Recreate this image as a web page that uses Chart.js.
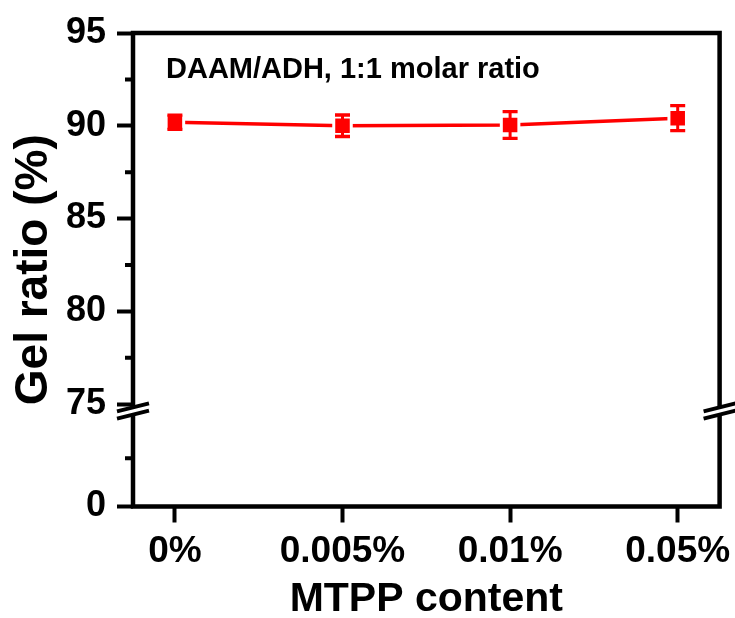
<!DOCTYPE html>
<html>
<head>
<meta charset="utf-8">
<script src="https://cdn.jsdelivr.net/npm/chart.js@4.4.1/dist/chart.umd.min.js"></script>
<style>
  html, body { margin: 0; padding: 0; background: #ffffff; }
  #wrap { width: 735px; height: 618px; }
</style>
</head>
<body>
<div id="wrap"><canvas id="c" width="735" height="618"></canvas></div>
<script>
// ---- data ----
const categories = ['0%', '0.005%', '0.01%', '0.05%'];
const gelRatio = [90.19, 90.00, 90.04, 90.41];
const gelError = [0.38, 0.58, 0.72, 0.67];
const yMajorTicks = [0, 75, 80, 85, 90, 95];
const yMinorTicks = [37.5, 77.5, 82.5, 87.5, 92.5];
const annotationText = 'DAAM/ADH, 1:1 molar ratio';
const xTitle = 'MTPP content';
const yTitle = 'Gel ratio (%)';

// ---- broken axis mapping (values below the break are compressed) ----
const BREAK_AT = 75;
const BREAK_GAP = 0.323;     // display units taken by the break
const LOWER_SPAN = 5.2;      // display units used for 0..75
function toDisplay(v) {
  if (v >= BREAK_AT) return v;
  return BREAK_AT - BREAK_GAP - LOWER_SPAN * (BREAK_AT - v) / BREAK_AT;
}

const FONT = '"Liberation Sans", Arial, Helvetica, sans-serif';
const RED = '#ff0000';
const BLACK = '#000000';

const errorBarPlugin = {
  id: 'errorBars',
  afterDatasetsDraw(chart) {
    const xs = chart.scales.x, ys = chart.scales.y, ctx = chart.ctx;
    ctx.save();
    ctx.strokeStyle = RED;
    ctx.lineCap = 'butt';
    gelRatio.forEach((v, i) => {
      const x = xs.getPixelForValue(i);
      const yTop = ys.getPixelForValue(toDisplay(v + gelError[i]));
      const yBot = ys.getPixelForValue(toDisplay(v - gelError[i]));
      ctx.lineWidth = 3;
      ctx.beginPath();
      ctx.moveTo(x, yTop); ctx.lineTo(x, yBot);
      ctx.stroke();
      ctx.lineWidth = 3.3;
      ctx.beginPath();
      ctx.moveTo(x - 7.5, yTop); ctx.lineTo(x + 7.5, yTop);
      ctx.moveTo(x - 7.5, yBot); ctx.lineTo(x + 7.5, yBot);
      ctx.stroke();
    });
    ctx.restore();
  }
};

const framePlugin = {
  id: 'frame',
  afterDraw(chart) {
    const ctx = chart.ctx, a = chart.chartArea, ys = chart.scales.y;
    ctx.save();
    ctx.strokeStyle = BLACK;
    ctx.lineWidth = 4.5;
    ctx.lineCap = 'square';
    ctx.beginPath();
    ctx.moveTo(a.left, a.top); ctx.lineTo(a.right, a.top);
    ctx.moveTo(a.left, a.bottom); ctx.lineTo(a.right, a.bottom);
    ctx.moveTo(a.left, a.top); ctx.lineTo(a.left, a.bottom);
    ctx.moveTo(a.right, a.top); ctx.lineTo(a.right, a.bottom);
    ctx.stroke();

    // minor ticks
    ctx.lineCap = 'butt';
    ctx.lineWidth = 4;
    ctx.beginPath();
    yMinorTicks.forEach(v => {
      const y = ys.getPixelForValue(toDisplay(v));
      ctx.moveTo(a.left - 8, y); ctx.lineTo(a.left, y);
    });
    ctx.stroke();

    // axis break marks
    const cy = ys.getPixelForValue(toDisplay(BREAK_AT - 1e-9)) + 1;
    [a.left, a.right].forEach(cx => {
      const hw = 16, slope = -0.25, off = 3.6;
      const yAt = (x, o) => cy + slope * (x - cx) + o;
      ctx.fillStyle = '#ffffff';
      ctx.beginPath();
      ctx.moveTo(cx - hw, yAt(cx - hw, -off));
      ctx.lineTo(cx + hw, yAt(cx + hw, -off));
      ctx.lineTo(cx + hw, yAt(cx + hw, off));
      ctx.lineTo(cx - hw, yAt(cx - hw, off));
      ctx.closePath();
      ctx.fill();
      ctx.lineWidth = 3.8;
      ctx.beginPath();
      ctx.moveTo(cx - hw, yAt(cx - hw, -off)); ctx.lineTo(cx + hw, yAt(cx + hw, -off));
      ctx.moveTo(cx - hw, yAt(cx - hw, off)); ctx.lineTo(cx + hw, yAt(cx + hw, off));
      ctx.stroke();
    });

    // annotation
    ctx.fillStyle = BLACK;
    ctx.font = 'bold 29px ' + FONT;
    ctx.textAlign = 'left';
    ctx.textBaseline = 'alphabetic';
    ctx.fillText(annotationText, a.left + 33, a.top + 45);
    ctx.restore();
  }
};

new Chart(document.getElementById('c'), {
  type: 'line',
  data: {
    datasets: [{
      data: gelRatio.map((v, i) => ({ x: i, y: toDisplay(v) })),
      borderColor: RED,
      borderWidth: 3.5,
      tension: 0,
      fill: false,
      pointStyle: 'rect',
      pointRadius: 12.4,
      pointBackgroundColor: RED,
      pointBorderColor: '#ffffff',
      pointBorderWidth: 3
    }]
  },
  options: {
    responsive: false,
    animation: false,
    devicePixelRatio: 1,
    layout: { padding: { top: 33, right: 15, bottom: 0, left: 0 } },
    plugins: { legend: { display: false }, tooltip: { enabled: false } },
    scales: {
      x: {
        type: 'linear',
        min: -0.25,
        max: 3.25,
        afterBuildTicks: s => { s.ticks = categories.map((c, i) => ({ value: i })); },
        afterFit: s => { s.height = 111.5; s.paddingLeft = 0; s.paddingRight = 0; },
        ticks: {
          callback: (v, i) => categories[i],
          color: BLACK,
          font: { family: FONT, size: 37, weight: 'bold' },
          padding: 7,
          maxRotation: 0,
          autoSkip: false
        },
        grid: { drawOnChartArea: false, drawTicks: true, tickLength: 16, tickWidth: 4, tickColor: BLACK },
        border: { display: false },
        title: {
          display: true, text: xTitle, color: BLACK,
          font: { family: FONT, size: 41, weight: 'bold', lineHeight: 1.2 },
          padding: { top: 0, bottom: -6 }
        }
      },
      y: {
        type: 'linear',
        min: toDisplay(0),
        max: 95,
        afterBuildTicks: s => { s.ticks = yMajorTicks.map(v => ({ value: toDisplay(v) })); },
        afterFit: s => { s.width = 133; s.paddingTop = 0; s.paddingBottom = 0; },
        ticks: {
          callback: (v, i) => String(yMajorTicks[i]),
          color: BLACK,
          font: { family: FONT, size: 36, weight: 'bold' },
          padding: 11,
          autoSkip: false
        },
        grid: { drawOnChartArea: false, drawTicks: true, tickLength: 16, tickWidth: 4, tickColor: BLACK },
        border: { display: false },
        title: {
          display: true, text: yTitle, color: BLACK,
          font: { family: FONT, size: 46, weight: 'bold', lineHeight: 1.2 },
          padding: { top: 7, bottom: 0 }
        }
      }
    }
  },
  plugins: [errorBarPlugin, framePlugin]
});
</script>
</body>
</html>
